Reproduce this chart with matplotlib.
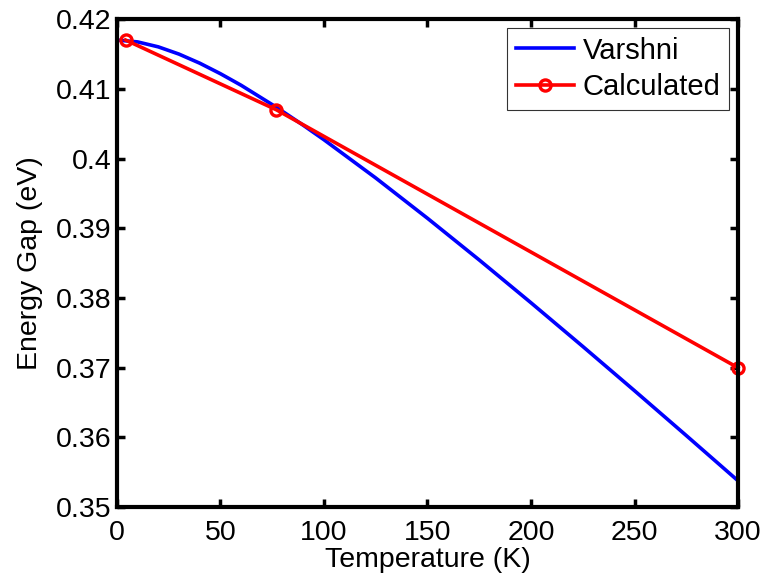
import matplotlib
matplotlib.use("Agg")
import matplotlib.pyplot as plt

# Varshni curve values
varshni_T = [0, 10, 20, 30, 40, 50, 60, 77, 90, 100, 125, 150, 175, 200, 225, 250, 275, 300]
varshni_Eg = [0.4170, 0.41673, 0.41602, 0.41498, 0.41368, 0.41217, 0.41051, 0.40737,
              0.40478, 0.4027, 0.39722, 0.39144, 0.38546, 0.37932, 0.37306, 0.36671,
              0.36028, 0.35379]

# Calculated points
calc_T = [4.2, 77, 300]
calc_Eg = [0.417, 0.407, 0.370]

x_ticks = [0, 50, 100, 150, 200, 250, 300]
y_ticks = [0.35, 0.36, 0.37, 0.38, 0.39, 0.40, 0.41, 0.42]
y_ticklabels = ["0.35", "0.36", "0.37", "0.38", "0.39", "0.4", "0.41", "0.42"]

plt.rcParams['font.family'] = ['Liberation Sans', 'DejaVu Sans']
FS = 20.5

fig = plt.figure(figsize=(7.64, 5.79), dpi=100)
ax = fig.add_axes([0.153, 0.124, 0.813, 0.843])

ax.plot(varshni_T, varshni_Eg, color='#0000ff', lw=2.6, label='Varshni')
ax.plot(calc_T, calc_Eg, color='#ff0000', lw=2.6, marker='o', markersize=8,
        markerfacecolor='none', markeredgewidth=2.4, label='Calculated', clip_on=False)

ax.set_xlim(0, 300)
ax.set_ylim(0.35, 0.42)
ax.set_xticks(x_ticks)
ax.set_yticks(y_ticks)
ax.set_yticklabels(y_ticklabels)
ax.tick_params(direction='in', length=6, width=2.5, labelsize=FS, top=True, right=True)
ax.tick_params(axis='x', pad=9)
ax.tick_params(axis='y', pad=4)
for s in ax.spines.values():
    s.set_linewidth(3)

ax.set_xlabel('Temperature (K)', fontsize=FS, labelpad=1)
ax.set_ylabel('Energy Gap (eV)', fontsize=FS, labelpad=9)

leg = ax.legend(loc='upper right', fontsize=21, frameon=True, fancybox=False,
                edgecolor='black', handlelength=2.0, borderaxespad=0.3,
                handletextpad=0.3, borderpad=0.3, labelspacing=0.3)
leg.get_frame().set_linewidth(0.8)

fig.savefig('out.png', dpi=100)
